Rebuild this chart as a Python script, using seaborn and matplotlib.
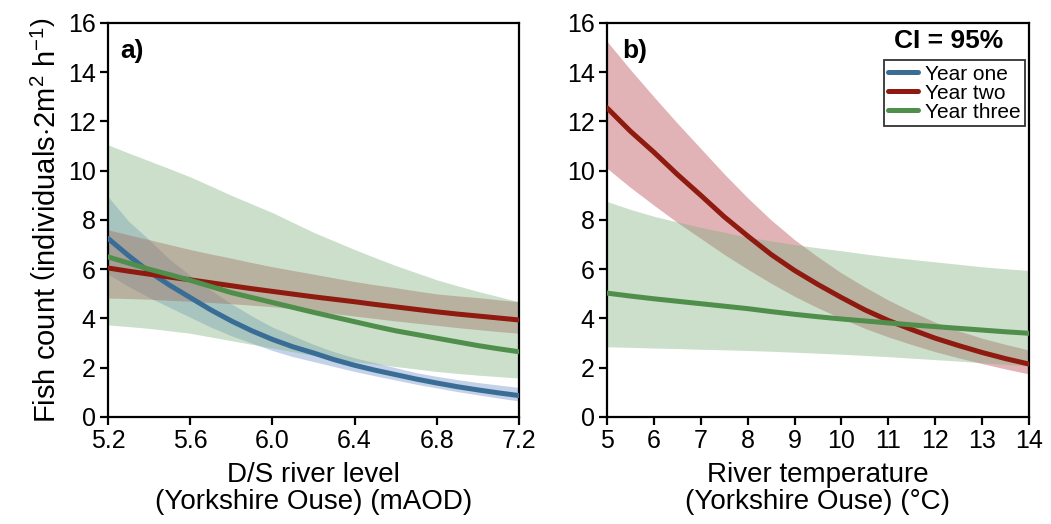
import numpy as np
import pandas as pd
import matplotlib
matplotlib.use("Agg")
import matplotlib.pyplot as plt
from matplotlib.lines import Line2D
import seaborn as sns

# ---------------- data ----------------
level_x = [5.2, 5.3, 5.4, 5.5, 5.6, 5.7, 5.8, 5.9, 6.0, 6.1, 6.2,
           6.3, 6.4, 6.5, 6.6, 6.7, 6.8, 6.9, 7.0, 7.1, 7.2]
a_y1_fit = [7.25, 6.55, 5.9, 5.35, 4.85, 4.35, 3.9, 3.5, 3.15, 2.85, 2.6,
            2.33, 2.1, 1.9, 1.72, 1.54, 1.38, 1.23, 1.1, 0.98, 0.87]
a_y1_hi = [8.95, 7.95, 7.2, 6.4, 5.75, 5.15, 4.6, 4.1, 3.65, 3.3, 2.95,
           2.65, 2.4, 2.2, 2.0, 1.8, 1.65, 1.52, 1.4, 1.3, 1.2]
a_y1_lo = [5.8, 5.3, 4.85, 4.45, 4.05, 3.65, 3.3, 3.0, 2.7, 2.45, 2.25,
           2.05, 1.85, 1.67, 1.5, 1.33, 1.18, 1.03, 0.9, 0.77, 0.65]
a_y2_fit = [6.05, 5.92, 5.8, 5.68, 5.57, 5.45, 5.33, 5.21, 5.1, 4.99, 4.88,
            4.78, 4.68, 4.57, 4.47, 4.37, 4.27, 4.18, 4.1, 4.02, 3.94]
a_y2_hi = [7.6, 7.4, 7.2, 7.0, 6.8, 6.62, 6.45, 6.27, 6.1, 5.95, 5.8,
           5.65, 5.5, 5.37, 5.25, 5.12, 5.0, 4.92, 4.85, 4.76, 4.68]
a_y2_lo = [4.83, 4.81, 4.78, 4.74, 4.7, 4.65, 4.6, 4.54, 4.48, 4.39, 4.3,
           4.2, 4.1, 4.0, 3.9, 3.81, 3.72, 3.63, 3.55, 3.47, 3.4]
a_y3_fit = [6.5, 6.25, 6.0, 5.78, 5.55, 5.3, 5.05, 4.85, 4.65, 4.45, 4.25,
            4.06, 3.87, 3.68, 3.5, 3.35, 3.2, 3.05, 2.9, 2.77, 2.65]
a_y3_hi = [11.05, 10.72, 10.4, 10.08, 9.75, 9.38, 9.0, 8.65, 8.3, 7.9, 7.5,
           7.15, 6.8, 6.47, 6.15, 5.86, 5.57, 5.33, 5.1, 4.89, 4.68]
a_y3_lo = [3.74, 3.67, 3.6, 3.5, 3.4, 3.25, 3.1, 2.95, 2.8, 2.65, 2.5,
           2.37, 2.25, 2.15, 2.05, 1.95, 1.85, 1.77, 1.7, 1.64, 1.58]

temp_x = [5, 5.5, 6, 6.5, 7, 7.5, 8, 8.5, 9, 9.5, 10,
          10.5, 11, 11.5, 12, 12.5, 13, 13.5, 14]
b_y2_fit = [12.55, 11.6, 10.75, 9.85, 9.0, 8.13, 7.35, 6.6, 5.95, 5.38, 4.85,
            4.35, 3.92, 3.55, 3.2, 2.9, 2.62, 2.37, 2.15]
b_y2_hi = [15.25, 14.1, 13.0, 11.93, 10.9, 9.87, 8.9, 8.0, 7.2, 6.5, 5.85,
           5.28, 4.75, 4.28, 3.85, 3.5, 3.2, 2.95, 2.72]
b_y2_lo = [10.1, 9.32, 8.6, 7.9, 7.25, 6.6, 6.0, 5.43, 4.9, 4.43, 4.0,
           3.6, 3.25, 2.94, 2.65, 2.4, 2.17, 1.95, 1.75]
b_y3_fit = [5.03, 4.91, 4.8, 4.7, 4.6, 4.5, 4.4, 4.28, 4.17, 4.07, 3.98,
            3.9, 3.82, 3.74, 3.67, 3.6, 3.53, 3.46, 3.4]
b_y3_hi = [8.75, 8.43, 8.15, 7.92, 7.7, 7.5, 7.3, 7.15, 7.0, 6.87, 6.75,
           6.62, 6.5, 6.4, 6.3, 6.2, 6.1, 6.02, 5.95]
b_y3_lo = [2.85, 2.83, 2.8, 2.78, 2.75, 2.73, 2.7, 2.67, 2.63, 2.59, 2.55,
           2.5, 2.45, 2.39, 2.33, 2.27, 2.2, 2.14, 2.07]

years = ["Year one", "Year two", "Year three"]
line_cols = {"Year one": "#3a6d96", "Year two": "#8e1a10", "Year three": "#4f8f4b"}
band_cols = {"Year one": "#6a8fc8", "Year two": "#b5404a", "Year three": "#7fb07f"}

a_xticks = [5.2, 5.6, 6.0, 6.4, 6.8, 7.2]
b_xticks = [5, 6, 7, 8, 9, 10, 11, 12, 13, 14]
yticks = [0, 2, 4, 6, 8, 10, 12, 14, 16]

# ---------------- style ----------------
sns.set_theme(style="ticks")
FONT = ["Liberation Sans", "DejaVu Sans"]
plt.rcParams["font.family"] = FONT
plt.rcParams["mathtext.fontset"] = "custom"
plt.rcParams["mathtext.rm"] = "Liberation Sans"
plt.rcParams["mathtext.it"] = "Liberation Sans:italic"
plt.rcParams["mathtext.bf"] = "Liberation Sans:bold"
for k in ("text.color", "axes.labelcolor", "xtick.color", "ytick.color", "axes.edgecolor"):
    plt.rcParams[k] = "black"

fig = plt.figure(figsize=(10.51, 5.24), dpi=100)
axa = fig.add_axes([0.1028, 0.2042, 0.391, 0.752])
axb = fig.add_axes([0.5776, 0.2042, 0.4014, 0.752])

na, nb = len(level_x), len(temp_x)
df_a = pd.DataFrame({
    "x": level_x * 3,
    "fit": a_y1_fit + a_y2_fit + a_y3_fit,
    "lo": a_y1_lo + a_y2_lo + a_y3_lo,
    "hi": a_y1_hi + a_y2_hi + a_y3_hi,
    "Year": ["Year one"] * na + ["Year two"] * na + ["Year three"] * na,
})
df_b = pd.DataFrame({
    "x": temp_x * 2,
    "fit": b_y2_fit + b_y3_fit,
    "lo": b_y2_lo + b_y3_lo,
    "hi": b_y2_hi + b_y3_hi,
    "Year": ["Year two"] * nb + ["Year three"] * nb,
})

for ax, df in ((axa, df_a), (axb, df_b)):
    present = [y for y in years if y in set(df["Year"])]
    for yr in present:
        sub = df[df["Year"] == yr]
        ax.fill_between(sub["x"], sub["lo"], sub["hi"], color=band_cols[yr],
                        alpha=0.4, lw=0, zorder=1)
    sns.lineplot(data=df, x="x", y="fit", hue="Year", palette=line_cols,
                 hue_order=present, lw=3.6, ax=ax, legend=False, zorder=3)

axa.set_xlim(5.2, 7.2)
axb.set_xlim(5, 14)
for ax in (axa, axb):
    ax.set_ylim(0, 16)
    ax.set_yticks(yticks)
    for s in ax.spines.values():
        s.set_visible(True)
        s.set_linewidth(1.6)
        s.set_color("black")
    ax.tick_params(axis="both", direction="out", length=6, width=1.6,
                   labelsize=18, colors="black", pad=3)
axa.set_xticks(a_xticks)
axa.set_xticklabels([f"{v:.1f}" for v in a_xticks])
axb.set_xticks(b_xticks)

axa.set_xlabel("D/S river level\n(Yorkshire Ouse) (mAOD)", fontsize=20, labelpad=6,
               linespacing=1.05)
axb.set_xlabel("River temperature\n(Yorkshire Ouse) (\u00b0C)", fontsize=20, labelpad=6,
               linespacing=1.05)
axa.set_ylabel(r"Fish count $\left(\mathrm{individuals{\cdot}2m^{2}\ h^{-1}}\right)$",
               fontsize=21, labelpad=4)
axb.set_ylabel("")

axa.text(0.03, 0.96, "a)", transform=axa.transAxes, fontsize=19, fontweight="bold",
         va="top", ha="left")
axb.text(0.035, 0.96, "b)", transform=axb.transAxes, fontsize=19, fontweight="bold",
         va="top", ha="left")

handles = [Line2D([0], [0], color=line_cols[y], lw=3.6) for y in years]
leg = axb.legend(handles, years, loc="upper right", bbox_to_anchor=(0.99, 0.905),
                 frameon=True, fancybox=False, edgecolor="black", fontsize=15,
                 handlelength=1.4, handletextpad=0.35, borderpad=0.2,
                 labelspacing=0.0, borderaxespad=0.0)
leg.get_frame().set_linewidth(1.3)
axb.text(0.81, 0.985, "CI = 95%", transform=axb.transAxes, fontsize=19,
         fontweight="bold", ha="center", va="top")

fig.savefig("out.png", dpi=100)
